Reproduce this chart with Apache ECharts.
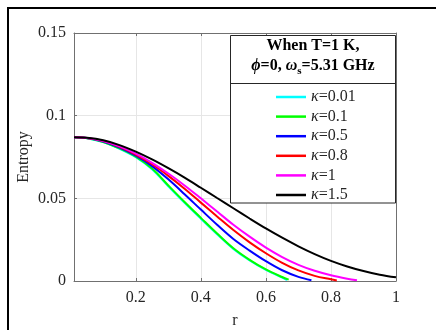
<!DOCTYPE html>
<html><head><meta charset="utf-8">
<script src="https://cdn.jsdelivr.net/npm/echarts@6/dist/echarts.min.js"></script>
<style>html,body{margin:0;padding:0;background:#fff}#c{width:436px;height:330px}</style>
</head><body><div id="c"></div>
<script>
const seriesNames = ['κ=0.01','κ=0.1','κ=0.5','κ=0.8','κ=1','κ=1.5'];
const seriesColors = ['#00FFFF','#00FF00','#0000FF','#FF0000','#FF00FF','#000000'];
const xTicks = [0.2,0.4,0.6,0.8,1];
const yTicks = [0,0.05,0.1,0.15];

const rK001 = [0.01,0.05,0.1,0.15,0.2,0.25,0.3,0.35,0.4,0.45,0.5,0.55,0.6,0.65,0.665];
const eK001 = [0.0869,0.0864,0.0840,0.0800,0.0749,0.0676,0.0573,0.0473,0.0377,0.0283,0.0194,0.0124,0.0067,0.0021,0.0006];
const rK01 = [0.01,0.05,0.1,0.15,0.2,0.25,0.3,0.35,0.4,0.45,0.5,0.55,0.6,0.65,0.67];
const eK01 = [0.0869,0.0864,0.0841,0.0802,0.0752,0.0680,0.0578,0.0478,0.0382,0.0287,0.0198,0.0128,0.0070,0.0024,0.0008];
const rK05 = [0.01,0.05,0.1,0.15,0.2,0.25,0.3,0.35,0.4,0.45,0.5,0.55,0.6,0.65,0.7,0.74];
const eK05 = [0.0869,0.0865,0.0844,0.0807,0.0758,0.0695,0.0615,0.0525,0.0432,0.0340,0.0254,0.0184,0.0120,0.0065,0.0025,0.0005];
const rK08 = [0.01,0.05,0.1,0.15,0.2,0.25,0.3,0.35,0.4,0.45,0.5,0.55,0.6,0.65,0.7,0.75,0.8,0.818];
const eK08 = [0.0869,0.0865,0.0846,0.0811,0.0765,0.0706,0.0636,0.0558,0.0474,0.0390,0.0308,0.0234,0.0168,0.0110,0.0064,0.0031,0.0010,0.0003];
const rK1 = [0.01,0.05,0.1,0.15,0.2,0.25,0.3,0.35,0.4,0.45,0.5,0.55,0.6,0.65,0.7,0.75,0.8,0.85,0.88];
const eK1 = [0.0869,0.0865,0.0847,0.0814,0.0770,0.0715,0.0650,0.0578,0.0500,0.0420,0.0340,0.0268,0.0202,0.0145,0.0098,0.0062,0.0035,0.0014,0.0004];
const rK15 = [0.01,0.05,0.1,0.15,0.2,0.25,0.3,0.35,0.4,0.45,0.5,0.55,0.6,0.65,0.7,0.75,0.8,0.85,0.9,0.95,1.0];
const eK15 = [0.0869,0.0866,0.0851,0.0822,0.0782,0.0735,0.0682,0.0625,0.0564,0.0502,0.0440,0.0378,0.0318,0.0262,0.0210,0.0163,0.0122,0.0088,0.0060,0.0038,0.0022];

const rList = [rK001,rK01,rK05,rK08,rK1,rK15];
const eList = [eK001,eK01,eK05,eK08,eK1,eK15];

const FONT = 'Liberation Serif';
const axisColor = '#707070';
const textColor = '#262626';

const chart = echarts.init(document.getElementById('c'), null, {renderer:'canvas'});
const series = seriesNames.map((n,i)=>({
  name:n, type:'line', showSymbol:false, symbol:'none',
  smooth:0.35,
  data: rList[i].map((r,j)=>[r,eList[i][j]]),
  lineStyle:{color:seriesColors[i], width:2},
  itemStyle:{color:seriesColors[i]},
  z: 2+i
}));

const grid = {left:74, top:33, width:322, height:248, containLabel:false, outerBoundsMode:'none'};
chart.setOption({
  animation:false,
  backgroundColor:'#fff',
  grid: grid,
  xAxis:[{
    type:'value', min:0.01, max:1, position:'bottom',
    name:'r', nameLocation:'middle', nameGap:32, nameMoveOverlap:false,
    nameTextStyle:{fontFamily:FONT, fontSize:16, color:textColor},
    axisLine:{show:true, onZero:false, lineStyle:{color:axisColor, width:1}},
    axisTick:{show:true, inside:true, length:3, customValues:xTicks, lineStyle:{color:axisColor}},
    axisLabel:{show:true, customValues:xTicks, margin:9, fontFamily:FONT, fontSize:16, color:textColor,
      formatter:v=>String(+v.toFixed(2))},
    splitLine:{show:true, lineStyle:{color:'#e6e6e6', width:1}}
  },{
    type:'value', min:0.01, max:1, position:'top',
    axisLine:{show:true, onZero:false, lineStyle:{color:axisColor, width:1}},
    axisTick:{show:true, inside:true, length:3, customValues:xTicks, lineStyle:{color:axisColor}},
    axisLabel:{show:false}, splitLine:{show:false}
  }],
  yAxis:[{
    type:'value', min:0, max:0.15, interval:0.05, position:'left',
    name:'Entropy', nameLocation:'middle', nameGap:42, nameMoveOverlap:false,
    nameTextStyle:{fontFamily:FONT, fontSize:16, color:textColor},
    axisLine:{show:true, onZero:false, lineStyle:{color:axisColor, width:1}},
    axisTick:{show:true, inside:true, length:3, lineStyle:{color:axisColor}},
    axisLabel:{show:true, margin:8, fontFamily:FONT, fontSize:16, color:textColor,
      formatter:v=>String(+v.toFixed(2))},
    splitLine:{show:true, lineStyle:{color:'#e6e6e6', width:1}}
  },{
    type:'value', min:0, max:0.15, interval:0.05, position:'right',
    axisLine:{show:true, onZero:false, lineStyle:{color:axisColor, width:1}},
    axisTick:{show:true, inside:true, length:3, lineStyle:{color:axisColor}},
    axisLabel:{show:false}, splitLine:{show:false}
  }],
  legend:{
    orient:'vertical', left:271, top:83, z:120,
    icon:'rect', itemWidth:30, itemHeight:2.5, itemGap:1.6,
    data: seriesNames,
    textStyle:{fontFamily:FONT, fontSize:16, color:textColor, lineHeight:18,
      rich:{k:{fontFamily:FONT, fontSize:16, fontStyle:'italic', color:textColor}}},
    formatter: n => '{k|κ}' + n.slice(1)
  },
  graphic:[
    {type:'rect', z:100, shape:{x:8, y:8, width:600, height:600}, style:{fill:'none', stroke:'#000', lineWidth:2}},
    {type:'rect', z:110, shape:{x:230.5, y:35.5, width:165, height:167.5}, style:{fill:'#fff', stroke:'#262626', lineWidth:1}},
    {type:'line', z:111, shape:{x1:230.5, y1:83.5, x2:395.5, y2:83.5}, style:{stroke:'#262626', lineWidth:1}},
    {type:'text', z:112, x:313, y:46, style:{text:'When T=1 K,', fontFamily:FONT, fontSize:16, fontWeight:'bold', fill:'#000', align:'center', verticalAlign:'middle'}},
    {type:'text', z:112, x:313, y:66, style:{
      text:'{i|ϕ}=0, {i|ω}{s|s}=5.31 GHz', fontFamily:FONT, fontSize:16, fontWeight:'bold', fill:'#000', align:'center', verticalAlign:'middle',
      rich:{
        i:{fontFamily:FONT, fontSize:16, fontStyle:'italic', fontWeight:'bold', fill:'#000'},
        s:{fontFamily:FONT, fontSize:11, fontWeight:'bold', fill:'#000', padding:[10,0,0,0]}
      }}}
  ],
  series: series
});
</script></body></html>
